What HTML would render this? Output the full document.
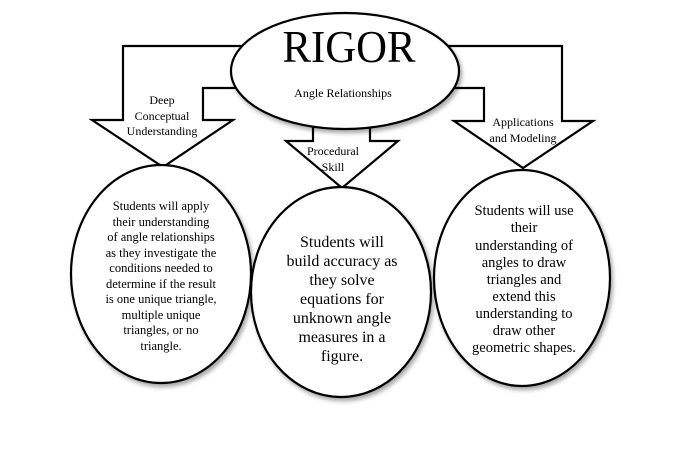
<!DOCTYPE html>
<html><head><meta charset="utf-8"><style>
html,body{margin:0;padding:0;background:#fff;}
svg{display:block;}
text{font-family:"Liberation Serif",serif;fill:#000;}
</style></head><body>
<svg width="691" height="451" viewBox="0 0 691 451" xmlns="http://www.w3.org/2000/svg">
<defs><filter id="sh" x="-10%" y="-10%" width="130%" height="130%"><feDropShadow dx="2" dy="3" stdDeviation="2" flood-color="#000" flood-opacity="0.35"/></filter></defs>
<g fill="#fff" stroke="#000" stroke-width="2.2" stroke-linejoin="miter">
<path d="M250,46 L123,46 L123,120 L92,120 L163,167 L233,120 L203,120 L203,88 L250,88"/>
<path d="M440,46 L562,46 L562,121 L593,121 L523,168 L454,121 L484,121 L484,88 L440,88"/>
<path d="M313,110 L313,141 L286,141 L342,188 L398,141 L370,141 L370,110"/>
<ellipse cx="345" cy="71" rx="114" ry="58" filter="url(#sh)"/>
<ellipse cx="161" cy="274" rx="90" ry="109" filter="url(#sh)"/>
<ellipse cx="341" cy="292" rx="90" ry="105" filter="url(#sh)"/>
<ellipse cx="522" cy="278" rx="88" ry="108" filter="url(#sh)"/>
</g>
<text x="349" y="62" font-size="46" text-anchor="middle" textLength="133" lengthAdjust="spacingAndGlyphs">RIGOR</text>
<text x="343" y="97" font-size="12" text-anchor="middle">Angle Relationships</text>
<g font-size="12" text-anchor="middle">
<text x="162" y="104">Deep</text>
<text x="162" y="120">Conceptual</text>
<text x="162" y="135">Understanding</text>
<text x="333" y="155">Procedural</text>
<text x="333" y="171">Skill</text>
<text x="523" y="126">Applications</text>
<text x="523" y="142">and Modeling</text>
</g>
<g font-size="12.5" text-anchor="middle">
<text x="161" y="210">Students  will apply</text>
<text x="161" y="226">their understanding</text>
<text x="161" y="241">of angle relationships</text>
<text x="161" y="257">as they investigate the</text>
<text x="161" y="272">conditions needed to</text>
<text x="161" y="288">determine if the result</text>
<text x="161" y="303">is one unique triangle,</text>
<text x="161" y="319">multiple unique</text>
<text x="161" y="334">triangles, or no</text>
<text x="161" y="350">triangle.</text>
</g>
<g font-size="16" text-anchor="middle">
<text x="342" y="247">Students will</text>
<text x="342" y="266">build accuracy as</text>
<text x="342" y="285">they solve</text>
<text x="342" y="304">equations for</text>
<text x="342" y="323">unknown angle</text>
<text x="342" y="342">measures in a</text>
<text x="342" y="361">figure.</text>
</g>
<g font-size="14.5" text-anchor="middle">
<text x="524" y="215">Students will use</text>
<text x="524" y="232">their</text>
<text x="524" y="250">understanding of</text>
<text x="524" y="267">angles to draw</text>
<text x="524" y="284">triangles and</text>
<text x="524" y="301">extend this</text>
<text x="524" y="318">understanding to</text>
<text x="524" y="335">draw other</text>
<text x="524" y="352">geometric shapes.</text>
</g>
</svg>
</body></html>
